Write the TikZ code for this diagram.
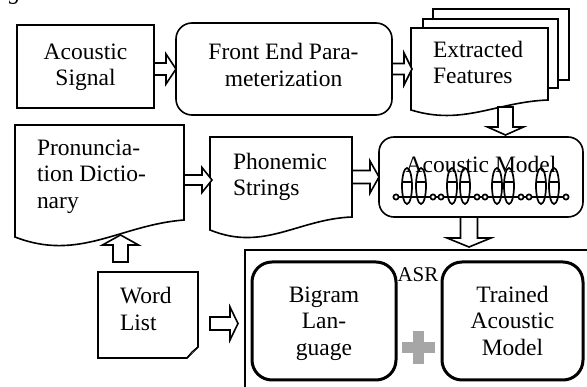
\documentclass[tikz,border=0pt]{standalone}
\usepackage{fontspec}
\setmainfont{Liberation Serif}
\usetikzlibrary{calc}
\definecolor{plusgray}{HTML}{A6A6A6}

% hollow block arrow: start, end, half shaft width, half head width, head length
\newcommand\blockarrow[5]{%
  \draw[barrow] let \p1=#1, \p2=#2,
      \n1={atan2(\y2-\y1,\x2-\x1)}, \n2={veclen(\x2-\x1,\y2-\y1)} in
    [shift={(\p1)}, rotate=\n1]
    (0pt,#3pt) -- ({\n2*1pt-#5pt},#3pt) -- ({\n2*1pt-#5pt},#4pt) -- ({\n2*1pt},0pt)
    -- ({\n2*1pt-#5pt},-#4pt) -- ({\n2*1pt-#5pt},-#3pt) -- (0pt,-#3pt) -- cycle;}

% document outline with a wavy lower edge: node, dip, rise, right end lift
\newcommand\docshape[4]{%
  \draw[outline] let \p1=(#1.north west), \p2=(#1.south east) in
    (\p1) -- (\x1,\y2)
    .. controls ({\x1+0.38*(\x2-\x1)},{\y2-#2pt}) and ({\x1+0.62*(\x2-\x1)},{\y2+#3pt})
    .. (\x2,{\y2+#4pt}) -- (\x2,\y1) -- cycle;}

\begin{document}
\begin{tikzpicture}[x=1pt,y=-1pt,
  plain/.style={inner sep=0pt, outer sep=0pt},
  frame/.style={plain, draw, line width=1.6pt, fill=white},
  rbox/.style={frame, rounded corners=16pt},
  boldbox/.style={plain, draw, line width=3pt, rounded corners=20pt},
  outline/.style={line width=1.6pt, fill=white, line join=miter},
  barrow/.style={draw, line width=1.6pt, fill=white, line join=miter},
  hmm/.style={line width=1.7pt},
  txt/.style={plain, font=\fontsize{23.5}{26.5}\selectfont},
  ctxt/.style={txt, align=center, anchor=north},
  ltxt/.style={txt, align=left, anchor=north west}]

\clip (0,0) rectangle (587,387);

% caption fragment at the top edge
\node[txt, anchor=base, font=\fontsize{23.5}{26.5}\selectfont\itshape] (cap) at (15,0) {g};

% first row
\node[frame, minimum width=137pt, minimum height=83pt] (sig) at (85.5,66.5) {};
\node[ctxt] (sigt) at (85.5,40.5) {\strut Acoustic\\\strut Signal};

\node[rbox, minimum width=216pt, minimum height=92pt] (fe) at (284,69) {};
\node[ctxt] (fet) at (283.5,41) {\strut Front End Para-\\\strut meterization};

\node[frame, minimum width=136pt, minimum height=71pt] (ef3) at (501,44.5) {};
\node[frame, minimum width=135pt, minimum height=69pt] (ef2) at (490.5,53.5) {};
\node[plain, minimum width=137pt, minimum height=82pt] (ef) at (479.5,69) {};
\docshape{ef}{16}{8}{10}
\node[ltxt] (eft) at (433,38.5) {\strut Extracted\\\strut Features};

% second row
\node[plain, minimum width=169pt, minimum height=112pt] (pd) at (99.5,181) {};
\docshape{pd}{25}{12}{17}
\node[ltxt] (pdt) at (37,136.5) {\strut Pronuncia-\\\strut tion Dictio-\\\strut nary};

\node[plain, minimum width=142pt, minimum height=93pt] (ps) at (281,183.5) {};
\docshape{ps}{22}{11}{13}
\node[ltxt] (pst) at (233,150.5) {\strut Phonemic\\\strut Strings};

\node[rbox, rounded corners=15pt, minimum width=204pt, minimum height=80pt] (am) at (481,177) {};
% HMM chain
\draw[hmm] (396,197) -- (566,197);
\foreach \x in {407,421,452,465,497,509,541,554} {
  \draw[hmm] (\x,186) ellipse [x radius=5, y radius=18];
  \draw[hmm] (\x-4.8,182) -- (\x+4.8,182);
}
\foreach \x in {396,433,441,477,485,521,529,566}
  \draw[hmm, fill=white] (\x,197) circle [radius=2.6];
\node[txt, anchor=base] (amt) at (481,173) {Acoustic Model};

% word list page with folded corner
\node[plain, minimum width=100pt, minimum height=86pt] (wl) at (148,315) {};
\draw[outline] let \p1=(wl.north west), \p2=(wl.south east) in
  (\p1) -- (\x2,\y1) -- (\x2,{\y2+11pt}) -- ({\x2-11pt},\y2) -- (\x1,\y2) -- cycle;
\draw[outline, line width=1.3pt] let \p2=(wl.south east) in
  (\x2,{\y2+11pt}) -- ({\x2-6pt},{\y2+6pt}) -- ({\x2-11pt},\y2);
\node[ltxt] (wlt) at (120,284.5) {\strut Word\\[1pt]\strut List};

% ASR block
\node[plain, draw, line width=1.4pt, minimum width=360pt, minimum height=160pt] (asr) at (425,330) {};
\node[txt, anchor=base, font=\fontsize{21}{24}\selectfont] (asrt) at (418,282) {ASR};

\node[boldbox, minimum width=144pt, minimum height=118pt] (big) at (324,321) {};
\node[ctxt] (bigt) at (324,283.5) {\strut Bigram\\\strut Lan-\\\strut guage};

\node[boldbox, minimum width=141pt, minimum height=118pt] (tam) at (512.5,321) {};
\node[ctxt] (tamt) at (512.5,283.5) {\strut Trained\\\strut Acoustic\\\strut Model};

\fill[plusgray] (402,342.5) rectangle (435,353.5);
\fill[plusgray] (413,331.5) rectangle (424,364.5);

% connectors
\blockarrow{(sig.east |- fe.west)}{(fe.west)}{6}{15}{10}
\blockarrow{(fe.east)}{($(ef.west |- fe.east)+(1,0)$)}{5.5}{16}{8}
\blockarrow{($(ef.south)+(26,-3)$)}{($(am.north)+(24.5,-2)$)}{7.5}{18}{8}
\blockarrow{($(pd.east)+(0,-1)$)}{($(ps.west)+(2,-3.5)$)}{5}{12.5}{10}
\blockarrow{(ps.east |- am.west)}{(am.west)}{6.5}{16}{9}
\blockarrow{($(am.south)+(-12,0)$)}{($(asr.north -| am.south)+(-12,-3)$)}{8.5}{22}{9}
\blockarrow{($(wl.north)+(-27.5,-10)$)}{($(pd.south)+(21,-2)$)}{7.5}{18}{10}
\blockarrow{($(wl.east)+(12,8.5)$)}{($(asr.west |- wl.east)+(-7,8.5)$)}{6.5}{16.5}{8}
\end{tikzpicture}
\end{document}
